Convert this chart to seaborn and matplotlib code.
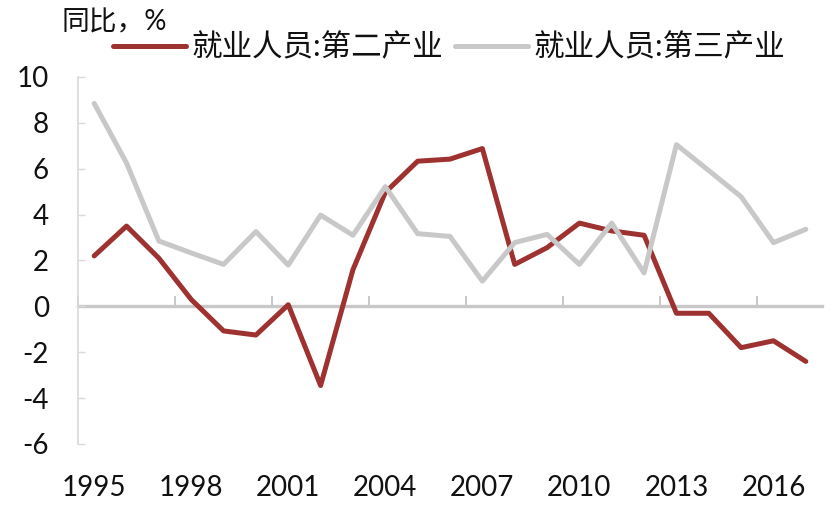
import matplotlib
matplotlib.use("Agg")
import matplotlib.pyplot as plt
import seaborn as sns
import pandas as pd

years = list(range(1995, 2018))
secondary = [2.2, 3.5, 2.1, 0.3, -1.07, -1.25, 0.07, -3.45, 1.6, 4.97, 6.33, 6.42,
             6.88, 1.83, 2.56, 3.63, 3.29, 3.1, -0.3, -0.3, -1.8, -1.5, -2.4]
tertiary = [8.85, 6.25, 2.85, 2.33, 1.83, 3.26, 1.8, 3.98, 3.1, 5.22, 3.17, 3.05,
            1.1, 2.78, 3.14, 1.83, 3.63, 1.46, 7.05, 5.92, 4.78, 2.78, 3.36]
series_names = ["就业人员:第二产业", "就业人员:第三产业"]
colors = ["#9E3231", "#C8C8C8"]
xtick_years = [1995, 1998, 2001, 2004, 2007, 2010, 2013, 2016]
yticks = [10, 8, 6, 4, 2, 0, -2, -4, -6]
ylabel_text = "同比，%"

df = pd.DataFrame({
    "year": years * 2,
    "value": secondary + tertiary,
    "series": [series_names[0]] * len(years) + [series_names[1]] * len(years),
})

sns.set_theme(style="white")
plt.rcParams["font.family"] = ["Lato", "Noto Sans CJK SC", "DejaVu Sans"]

fig = plt.figure(figsize=(8.32, 5.16), dpi=100)
ax = fig.add_axes([78 / 832, 1 - 444 / 516, (822 - 78) / 832, (444 - 77) / 516])

sns.lineplot(data=df, x="year", y="value", hue="series", hue_order=series_names,
             palette=colors, linewidth=3.6, ax=ax, legend=False, zorder=3)

ax.set_xlim(1994.5, 2017.5)
ax.set_ylim(-6, 10)
ax.set_xlabel("")
ax.set_ylabel("")

ax.set_yticks(yticks)
ax.set_yticklabels([str(v) for v in yticks])
ax.set_xticks(xtick_years)
ax.set_xticklabels([str(v) for v in xtick_years])
ax.tick_params(axis="x", length=0, pad=22, labelsize=20, labelcolor="#111111")
ax.tick_params(axis="y", direction="in", length=5, width=1.0, color="#D9D9D9",
               pad=21, labelsize=20, labelcolor="#111111", left=True)

for s in ["top", "right", "bottom"]:
    ax.spines[s].set_visible(False)
ax.spines["left"].set_color("#D9D9D9")
ax.spines["left"].set_linewidth(1.2)

# zero axis with category boundary ticks
sec = ax.secondary_xaxis(6 / 16)
sec.set_xticks([1994.5 + 3 * k for k in range(8)])
sec.tick_params(axis="x", direction="in", length=7, width=1.4, color="#C8C8C8",
                labelbottom=False)
sec.spines["bottom"].set_color("#C8C8C8")
sec.spines["bottom"].set_linewidth(2.4)

handles = [plt.Line2D([], [], color=c, linewidth=3.6) for c in colors]
fig.legend(handles, series_names, loc="center left",
           bbox_to_anchor=(113 / 832, 1 - 47 / 516), ncol=2, frameon=False,
           fontsize=22, handlelength=2.4, handletextpad=0.16, columnspacing=0.4,
           borderpad=0, borderaxespad=0, labelcolor="#111111")

fig.text(62 / 832, 1 - 22 / 516, ylabel_text, ha="left", va="center",
         fontsize=20, color="#111111")

fig.savefig("out.png", dpi=100)
